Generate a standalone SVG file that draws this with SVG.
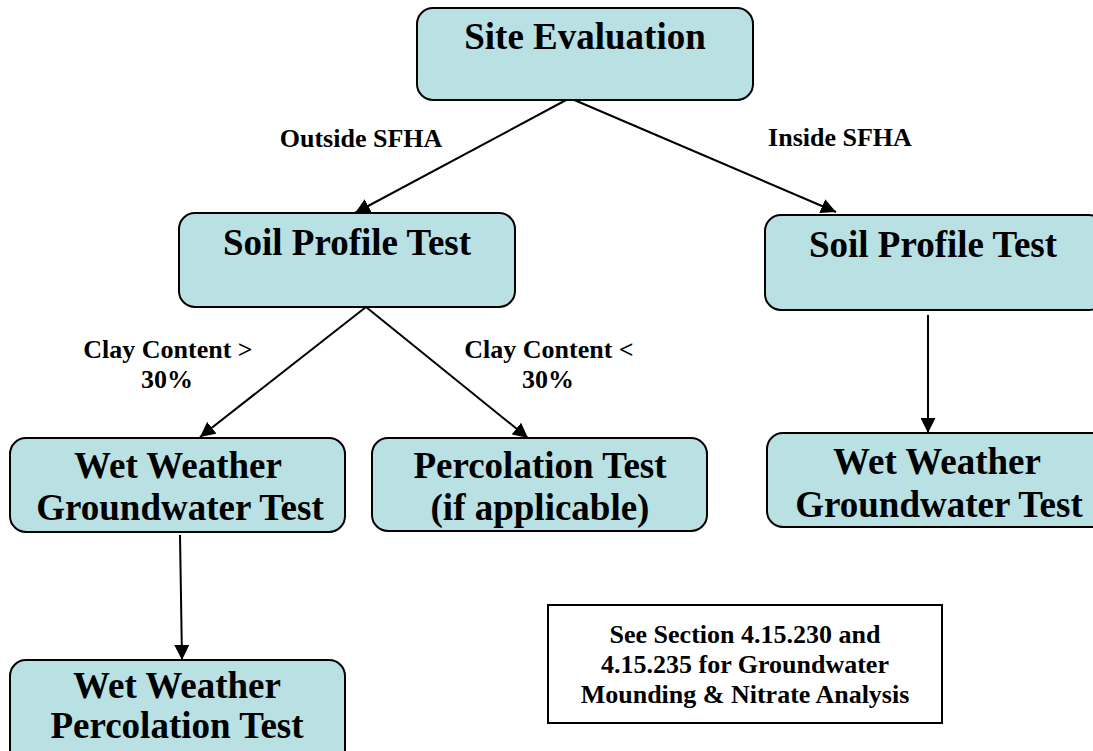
<svg xmlns="http://www.w3.org/2000/svg" width="1093" height="751" viewBox="0 0 1093 751">
<defs>
<marker id="ah" viewBox="0 0 10 10" refX="10" refY="5" markerWidth="7.5" markerHeight="7.5" orient="auto" markerUnits="strokeWidth">
<path d="M0,0 L10,5 L0,10 z" fill="#000"/>
</marker>
<style>
.box{fill:#b9e0e3;stroke:#000;stroke-width:2}
.note{fill:#fff;stroke:#000;stroke-width:2}
.t{font-family:"Liberation Serif","Times New Roman",serif;font-weight:bold;font-size:37px;text-anchor:middle;fill:#000}
.l{font-family:"Liberation Serif","Times New Roman",serif;font-weight:bold;font-size:26px;text-anchor:middle;fill:#000}
.c{stroke:#000;stroke-width:2;fill:none;marker-end:url(#ah)}
</style>
</defs>
<rect width="1093" height="751" fill="#fff"/>
<g id="connectors">
<line class="c" x1="568" y1="99" x2="355" y2="213"/>
<line class="c" x1="572" y1="99" x2="836" y2="212"/>
<line class="c" x1="366" y1="307" x2="200" y2="437"/>
<line class="c" x1="366" y1="307" x2="528" y2="438"/>
<line class="c" x1="928" y1="315" x2="928" y2="433"/>
<line class="c" x1="180" y1="535" x2="182" y2="660"/>
</g>
<g id="site-evaluation">
<rect class="box" x="417" y="8" width="336" height="92" rx="16"/>
<text class="t" x="585" y="49">Site Evaluation</text>
</g>
<g id="soil-profile-left">
<rect class="box" x="179" y="213" width="336" height="94" rx="16"/>
<text class="t" x="347" y="255">Soil Profile Test</text>
</g>
<g id="soil-profile-right">
<rect class="box" x="765" y="215" width="340" height="95" rx="16"/>
<text class="t" x="933" y="257">Soil Profile Test</text>
</g>
<g id="wwgt-left">
<rect class="box" x="10" y="438" width="335" height="94" rx="16"/>
<text class="t" x="178" y="478">Wet Weather</text>
<text class="t" x="180" y="520">Groundwater Test</text>
</g>
<g id="percolation">
<rect class="box" x="372" y="438" width="335" height="93" rx="16"/>
<text class="t" x="540" y="478">Percolation Test</text>
<text class="t" x="540" y="520">(if applicable)</text>
</g>
<g id="wwgt-right">
<rect class="box" x="767" y="433" width="340" height="94" rx="16"/>
<text class="t" x="937" y="474">Wet Weather</text>
<text class="t" x="939" y="517">Groundwater Test</text>
</g>
<g id="wwpt">
<rect class="box" x="10" y="660" width="335" height="110" rx="16"/>
<text class="t" x="177" y="698">Wet Weather</text>
<text class="t" x="177" y="738">Percolation Test</text>
</g>
<g id="note">
<rect class="note" x="548" y="605" width="394" height="118"/>
<text class="l" x="745" y="643">See Section 4.15.230 and</text>
<text class="l" x="745" y="673">4.15.235 for Groundwater</text>
<text class="l" x="745" y="703">Mounding &amp; Nitrate Analysis</text>
</g>
<g id="labels">
<text class="l" x="361" y="147">Outside SFHA</text>
<text class="l" x="840" y="146">Inside SFHA</text>
<text class="l" x="168" y="358">Clay Content &gt;</text>
<text class="l" x="167" y="388">30%</text>
<text class="l" x="549" y="358">Clay Content &lt;</text>
<text class="l" x="548" y="388">30%</text>
</g>
</svg>
